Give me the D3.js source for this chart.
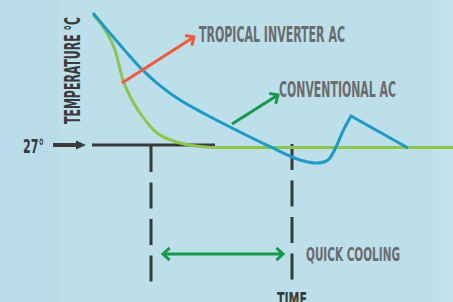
<!DOCTYPE html>
<html>
<head>
<meta charset="utf-8">
<script src="https://cdn.jsdelivr.net/npm/d3@7"></script>
<style>
html,body{margin:0;padding:0;background:#bcdfe9;overflow:hidden;}
svg{display:block;}
text{font-family:"DejaVu Sans Condensed","DejaVu Sans",sans-serif;font-weight:bold;}
</style>
</head>
<body>
<script>
// ---- data (time units, °C) ----
const inverterTime = [0, 12, 22, 30, 39, 47, 57, 64, 75, 87, 107, 122, 360];
const inverterTemp = [39.8, 38.35, 36.41, 33.5, 31.56, 30.3, 29.04, 28.36, 27.78, 27.39, 27.05, 26.95, 26.95];
const conventionalTime = [0, 17, 32, 50, 67, 87, 112, 139, 177, 207, 225, 235, 243, 250, 258];
const conventionalTemp = [40.0, 38.03, 36.35, 34.43, 32.95, 31.55, 30.2, 28.84, 27.03, 25.74, 25.45, 25.74, 27.0, 28.55, 30.01];
const conventionalTailTime = [258, 315];
const conventionalTailTemp = [30.01, 26.9];
const refTemp = 27;
const refLabel = "27°";
const markerTimes = [58, 199];
const quickCooling = [70, 190];
const yLabel = "TEMPERATURE °C";
const xLabel = "TIME";
const seriesNames = ["TROPICAL INVERTER AC", "CONVENTIONAL AC"];
const bandLabel = "QUICK COOLING";

const W = 453, H = 302;
const svg = d3.select("body").append("svg").attr("width", W).attr("height", H);

// background strips
svg.append("rect").attr("width", W).attr("height", H).attr("fill", "#bcdfe9");
svg.append("rect").attr("x", 0).attr("width", 58).attr("height", H).attr("fill", "#b9dde8");
svg.append("rect").attr("x", 433).attr("width", 20).attr("height", H).attr("fill", "#c1e2eb");

const x = d3.scaleLinear().domain([0, 360]).range([93, 453]);
const y = d3.scaleLinear().domain([27, 40]).range([147, 13]);

const dark = "#3a3a3a", gray = "#6b6b6d";
const blue = "#1b9bc9", lime = "#8cc74c", orange = "#f2593a", green = "#16994a";

// reference line 27°
svg.append("line").attr("x1", x(-1)).attr("x2", x(122)).attr("y1", y(refTemp) - 2).attr("y2", y(refTemp) - 2)
  .attr("stroke", dark).attr("stroke-width", 3);

// dashed markers
svg.selectAll("line.mk").data(markerTimes).join("line").attr("class", "mk")
  .attr("x1", d => x(d)).attr("x2", d => x(d))
  .attr("y1", (d, i) => y(refTemp) - (i ? 3 : 1)).attr("y2", y(13.8))
  .attr("stroke", dark).attr("stroke-width", 3).attr("stroke-dasharray", "26,10.5");

// 27° arrow
svg.append("text").attr("x", 23).attr("y", 153).attr("fill", dark).attr("font-size", 20)
  .attr("textLength", 21).attr("lengthAdjust", "spacingAndGlyphs").text(refLabel);
svg.append("path").attr("fill", dark)
  .attr("d", `M53,143 L76,143 L76,140.5 L86,145 L76,149.5 L76,147 L53,147 Z`);

// series
const ptsInv = inverterTime.map((t, i) => [x(t), y(inverterTemp[i])]);
const ptsConv = conventionalTime.map((t, i) => [x(t), y(conventionalTemp[i])]);
const ptsTail = conventionalTailTime.map((t, i) => [x(t), y(conventionalTailTemp[i])]);

svg.append("path").attr("d", d3.line().curve(d3.curveMonotoneX)(ptsInv))
  .attr("fill", "none").attr("stroke", lime).attr("stroke-width", 3);
svg.append("path").attr("d", d3.line().curve(d3.curveCatmullRom.alpha(0.5))(ptsConv) + d3.line()(ptsTail).replace("M", "L"))
  .attr("fill", "none").attr("stroke", blue).attr("stroke-width", 3).attr("stroke-linejoin", "miter");

// arrows
function arrow(x1, y1, x2, y2, color, both) {
  const g = svg.append("g").attr("stroke", color).attr("stroke-width", 3).attr("fill", "none").attr("stroke-linecap", "butt");
  g.append("line").attr("x1", x1).attr("y1", y1).attr("x2", x2).attr("y2", y2);
  const head = (hx, hy, ang) => {
    const L = 9, a = Math.PI / 4.2;
    g.append("path").attr("stroke-linejoin", "miter").attr("d",
      `M${hx - L * Math.cos(ang - a)},${hy - L * Math.sin(ang - a)} L${hx},${hy} L${hx - L * Math.cos(ang + a)},${hy - L * Math.sin(ang + a)}`);
  };
  const ang = Math.atan2(y2 - y1, x2 - x1);
  head(x2, y2, ang);
  if (both) head(x1, y1, ang + Math.PI);
}
arrow(x(29), y(33.21), x(101), y(37.67), orange);
arrow(x(139), y(29.23), x(185), y(32.04), green);
arrow(x(quickCooling[0]), y(16.62), x(quickCooling[1]), y(16.62), green, true);

// labels
function label(txt, lx, ly, w, size, color) {
  svg.append("text").attr("x", lx).attr("y", ly).attr("font-size", size).attr("fill", color)
    .attr("textLength", w).attr("lengthAdjust", "spacingAndGlyphs").text(txt);
}
label(seriesNames[0], 199, 42, 146, 21, gray);
label(seriesNames[1], 279, 97, 117, 21, gray);
label(bandLabel, 306, 261, 94, 20, gray);
label(xLabel, 277, 306, 30, 20, dark);
svg.append("text").attr("transform", "translate(80,124) rotate(-90)").attr("font-size", 21).attr("fill", dark)
  .attr("textLength", 107).attr("lengthAdjust", "spacingAndGlyphs").text(yLabel);
</script>
</body>
</html>
